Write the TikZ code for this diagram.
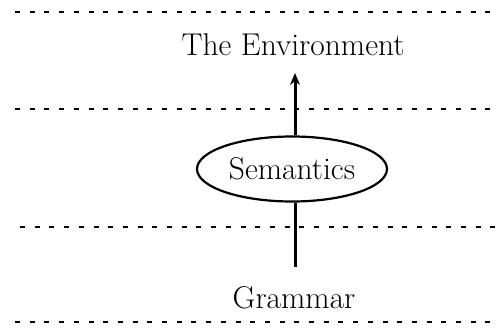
\documentclass[tikz,border=0pt]{standalone}
\usetikzlibrary{shapes.geometric,arrows.meta}
\begin{document}
\begin{tikzpicture}[x=1pt,y=-1pt,
  sep/.style={line width=2pt,dash pattern=on 5pt off 9.7pt},
  lbl/.style={font=\fontsize{31.5}{33}\selectfont,inner sep=0pt},
  sem/.style={ellipse,draw,line width=2.2pt,minimum width=190pt,minimum height=65pt,inner sep=0pt,font=\fontsize{31.5}{33}\selectfont},
  conn/.style={line width=3pt}]
\useasboundingbox (0,0) rectangle (498,332);
\coordinate (a1) at (15,12);  \coordinate (b1) at (498,12);
\coordinate (a2) at (15,109); \coordinate (b2) at (498,109);
\coordinate (a3) at (20,227); \coordinate (b3) at (498,227);
\coordinate (a4) at (15,322); \coordinate (b4) at (498,322);
\draw[sep] (a1) -- (b1);
\draw[sep] (a2) -- (b2);
\draw[sep] (a3) -- (b3);
\draw[sep] (a4) -- (b4);
\node[lbl] (env) at (293,45) {The Environment};
\node[sem] (sem) at (292,169) {Semantics};
\node[lbl] (gram) at (294,298) {Grammar};
\coordinate (top) at (295,73);
\coordinate (bot) at (295,267);
\draw[conn,-{Stealth[length=12pt,width=10pt]}] (sem.north -| top) -- (top);
\draw[conn] (sem.south -| bot) -- (bot);
\end{tikzpicture}
\end{document}
